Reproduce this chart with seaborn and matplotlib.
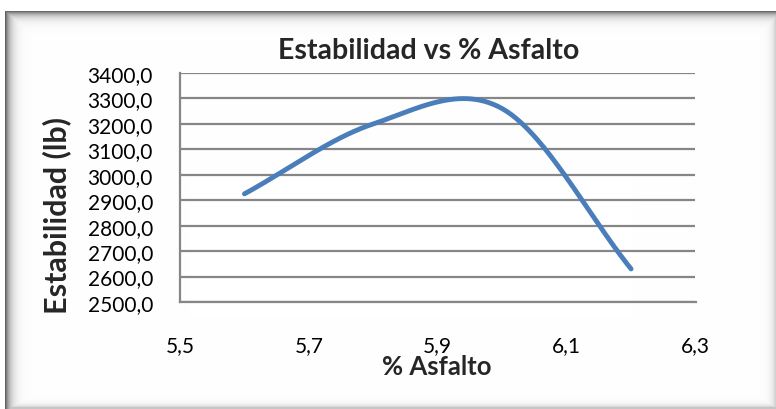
import numpy as np
import pandas as pd
import matplotlib
matplotlib.use("Agg")
import matplotlib.pyplot as plt
from matplotlib.ticker import FuncFormatter, MultipleLocator
import seaborn as sns

# Marshall test results: asphalt content vs. stability
asfalto = [5.6, 5.8, 6.0, 6.2]
estabilidad = [2925.0, 3200.0, 3260.0, 2630.0]

x_ticks = [5.5, 5.7, 5.9, 6.1, 6.3]
y_range = (2500.0, 3400.0)

title = "Estabilidad vs % Asfalto"
x_label = "% Asfalto"
y_label = "Estabilidad (lb)"

line_color = "#4A7EBB"
grid_color = "#868686"


def smooth_curve(xs, ys, n=60):
    """Cubic Bezier smoothing through every point (spreadsheet-style)."""
    p = np.column_stack([xs, ys]).astype(float)
    out = []
    m = len(p)
    for i in range(m - 1):
        p0, p3 = p[i], p[i + 1]
        if i == 0:
            c1 = p0 + (p3 - p0) / 3.0
        else:
            c1 = p0 + (p3 - p[i - 1]) / 6.0
        if i + 1 == m - 1:
            c2 = p3 - (p3 - p0) / 3.0
        else:
            c2 = p3 - (p[i + 2] - p0) / 6.0
        t = np.linspace(0, 1, n)[:, None]
        seg = ((1 - t) ** 3) * p0 + 3 * ((1 - t) ** 2) * t * c1 + 3 * (1 - t) * t ** 2 * c2 + t ** 3 * p3
        out.append(seg if i == 0 else seg[1:])
    return np.vstack(out)


sns.set_theme(style="white")
plt.rcParams["font.family"] = ["Lato", "DejaVu Sans"]

W, H = 776, 410
fig = plt.figure(figsize=(W / 100, H / 100), dpi=100)

# Chart-area frame with soft inner shadow
bg = fig.add_axes([0, 0, 1, 1], zorder=0)
rr, cc = np.mgrid[0:H, 0:W].astype(float)
dl = cc - 5
dt = rr - 12
dr = (W - 1) - cc
db = (H - 2) - rr
dark = np.maximum.reduce([
    0.62 * np.exp(-np.clip(dl, 0, None) / 5.0),
    0.58 * np.exp(-np.clip(dt, 0, None) / 4.5),
    0.18 * np.exp(-np.clip(dr, 0, None) / 4.0),
    0.22 * np.exp(-np.clip(db, 0, None) / 2.5),
])
shade = 1 - dark
shade[(dl < 0) | (dt < 0)] = 1.0
img = np.dstack([shade, shade, shade])
bg.imshow(img, extent=[0, W, H, 0], aspect="auto", interpolation="bilinear")
bg.set_axis_off()

ax_l, ax_t, ax_r, ax_b = 180, 74, 695.5, 303
ax = fig.add_axes([ax_l / W, 1 - ax_b / H, (ax_r - ax_l) / W, (ax_b - ax_t) / H], zorder=1)
ax.patch.set_alpha(0)

curve = smooth_curve(asfalto, estabilidad)
df = pd.DataFrame({"x": curve[:, 0], "y": curve[:, 1]})
sns.lineplot(data=df, x="x", y="y", ax=ax, color=line_color, linewidth=3.5,
             sort=False, estimator=None, solid_capstyle="round", zorder=3)

ax.set_xlim(x_ticks[0], x_ticks[-1])
ax.set_ylim(*y_range)
ax.set_xticks(x_ticks)
ax.yaxis.set_major_locator(MultipleLocator(100))

comma = lambda v, d: f"{v:.{d}f}".replace(".", ",")
ax.xaxis.set_major_formatter(FuncFormatter(lambda v, _: comma(v, 1)))
ax.yaxis.set_major_formatter(FuncFormatter(lambda v, _: comma(v, 1)))

ax.grid(axis="y", color=grid_color, linewidth=1.6)
ax.grid(axis="x", visible=False)
for s in ["top", "right"]:
    ax.spines[s].set_visible(False)
for s in ["left", "bottom"]:
    ax.spines[s].set_color(grid_color)
    ax.spines[s].set_linewidth(1.6)
ax.tick_params(axis="both", which="major", length=4.5, width=1.6, color=grid_color,
               labelsize=15, labelcolor="black", direction="out")
ax.tick_params(axis="y", pad=15)
ax.tick_params(axis="x", pad=19)

def fx(px):
    return (px - ax_l) / (ax_r - ax_l)

def fy(py):
    return (ax_b - py) / (ax_b - ax_t)

ax.set_title(title, fontsize=20.5, fontweight="bold", x=fx(428.5), y=fy(59), pad=0,
             va="baseline")
ax.set_xlabel(x_label, fontsize=18.5, fontweight="bold", va="baseline")
ax.xaxis.set_label_coords(fx(436.5), fy(375))
ax.set_ylabel(y_label, fontsize=22, fontweight="bold", va="center")
ax.yaxis.set_label_coords(fx(57), fy(216))

fig.savefig("out.png", dpi=100)
